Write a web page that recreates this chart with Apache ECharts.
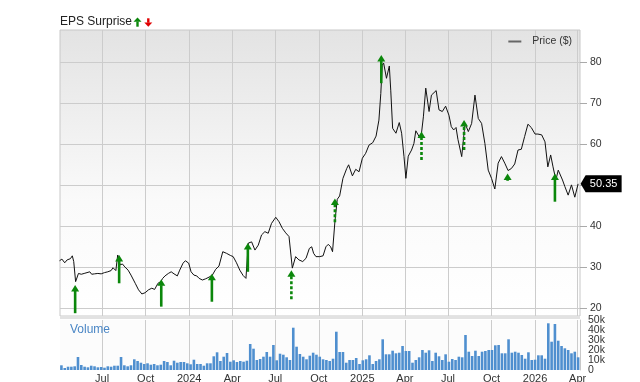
<!DOCTYPE html>
<html><head><meta charset="utf-8">
<script src="https://cdn.jsdelivr.net/npm/echarts@6/dist/echarts.min.js"></script>
<style>html,body{margin:0;padding:0;background:#fff}#c{width:640px;height:382px}</style>
</head><body><div id="c"></div>
<script>
// ---- data (day offsets are relative to 2024-01-01) ----
const baseDate = '2024-01-01';
const priceDays = [-274,-269,-263,-258,-251,-247,-244,-240,-234,-228,-222,-218,-210,-206,-200,-193,-186,-179,-172,-165,-161,-155,-151,-146,-141,-136,-129,-123,-114,-107,-100,-93,-86,-79,-73,-66,-60,-56,-51,-44,-38,-32,-25,-20,-13,-8,-1,4,10,16,21,28,35,42,49,56,63,71,79,87,93,100,107,114,120,125,132,139,146,153,160,167,174,183,190,197,204,211,218,225,232,240,247,254,259,263,268,276,283,289,294,299,303,308,313,318,325,333,337,345,352,359,366,373,380,388,395,401,405,408,411,417,423,426,430,437,444,449,454,458,463,470,475,479,484,488,491,495,500,507,512,522,528,535,542,549,554,559,564,568,576,583,590,597,604,611,618,625,632,639,646,653,660,667,674,681,688,695,702,709,716,723,731,737,745,752,758,764,769,775,780,783,789,794,801,808,815,822];
const priceValues = [31.6,32.0,31.1,31.8,32.1,32.8,31.4,26.5,28.5,28.3,28.5,28.1,28.9,28.3,28.4,28.5,28.4,28.7,28.9,29.2,29.9,29.2,33.0,30.6,30.8,30.1,29.3,28.1,26.1,24.5,23.5,23.8,24.5,24.9,24.6,26.1,26.5,27.3,27.9,28.5,28.9,28.4,27.9,29.3,31.0,31.6,31.0,28.9,28.1,27.9,27.3,26.9,27.2,27.6,28.1,29.5,30.3,33.8,33.4,32.9,32.6,31.1,29.3,28.0,27.3,35.9,36.2,34.2,35.4,37.9,38.7,38.3,40.7,42.2,41.1,39.5,38.4,37.5,29.8,32.6,31.8,31.4,32.2,34.6,35.0,33.4,32.6,32.6,32.8,35.0,35.6,35.0,33.8,41.1,46.6,47.4,51.7,54.1,55.0,52.3,53.9,53.3,56.6,57.8,59.8,60.4,62.0,65.9,72.4,79.3,79.8,76.1,79.1,73.2,63.9,62.7,65.3,62.7,57.0,51.7,57.1,58.6,60.2,63.3,62.3,61.5,62.7,66.7,73.7,68.0,72.0,73.1,68.4,68.0,69.3,67.1,64.3,63.5,64.1,61.2,57.0,65.1,63.1,65.1,72.0,66.3,65.1,60.2,53.7,51.7,49.1,55.4,57.0,55.4,53.6,54.1,55.2,58.6,58.8,61.9,64.9,64.1,62.5,62.5,62.3,60.6,54.5,57.4,54.5,51.3,53.7,53.3,51.3,49.7,47.6,50.1,47.1,50.35];
const lastPrice = 50.35;

// weekly volume, in thousands, first week 2023-04-06
const volumeStart = '2023-04-06';
const volumeK = [4.7,2,3.3,3.3,3.7,13,5,3.3,2.7,4.3,
3.7,2.7,3,2.3,3.7,3.3,4.3,4.3,13,4.7,
3.7,4.7,10.7,9,7.3,6,6.7,5.3,6,4.7,
5.3,9,8,4.7,9.3,7.3,8,8,6.7,5.7,
10.3,6,6,4.3,6.7,6.7,13.7,17.7,9,13.3,
17,8.3,9.7,8,9,8.3,9.3,26,21.3,10,
11,13.3,18,13.3,25,9.7,16.3,15.3,12.7,10,
42.3,23.3,16,13.3,10.7,14.3,17.3,15.3,13.3,10.7,
10,9,11.3,
38.3,18,18,7.3,10,10,12,6,9.7,10.7,
14.7,6,9,10.7,30.7,15.7,15.7,19.3,16.7,17.3,
24,19,19,7.3,10,12.7,20,17.3,19.7,9,
17.3,13.7,10,15.7,8.3,11,10,13.3,12.7,35,
18.3,14,19.3,14,18.3,19,20,20,24.7,25,
16.7,16.7,30.7,17.3,18.3,17.3,15,11.3,17.7,10,
10.3,14.7,14.7,11.3,46.7,28.3,46,29.3,24,21.7,
20,16.7,18.3,12.7];

// EPS surprise arrows (day offsets, arrow bottom, arrow tip, dashed flag)
const epsDays   = [-241,-148,-59,48,124,216,308,406,491,581,673,773];
const epsLow    = [18.8,26.1,20.4,21.6,28.9,22.2,41.0,74.9,56.2,58.6,51.1,46.0];
const epsHigh   = [25.7,33.0,27.1,28.4,35.9,29.3,46.8,81.8,63.1,65.9,52.9,52.9];
const epsDashed = [0,0,0,0,0,1,1,0,1,1,0,0];

const tickDates  = ['2023-07-01','2023-10-01','2024-01-01','2024-04-01','2024-07-01','2024-10-01','2025-01-01','2025-04-01','2025-07-01','2025-10-01','2026-01-01','2026-04-01'];
const tickLabels = ['Jul','Oct','2024','Apr','Jul','Oct','2025','Apr','Jul','Oct','2026','Apr'];
const priceTicks = [20,30,40,50,60,70,80];
const volumeTicksA = [0,20,40];
const volumeTicksB = [10,30,50];

// ---- helpers ----
const DAY = 86400000;
function ts(s){ const p = s.split('-').map(Number); return Date.UTC(p[0], p[1]-1, p[2]); }
const BASE = ts(baseDate);
const tickTs = tickDates.map(ts);
const labelMap = {}; tickTs.forEach((t,i)=>labelMap[t]=tickLabels[i]);
const xMin = BASE - 273*DAY, xMax = BASE + 826*DAY;

const priceData = priceDays.map((d,i)=>[BASE + d*DAY, priceValues[i]]);
const vStart = ts(volumeStart);
const volumeData = volumeK.map((v,i)=>[vStart + i*7*DAY, v]);
const epsData = epsDays.map((d,i)=>[BASE + d*DAY, epsLow[i], epsHigh[i], epsDashed[i]]);
const lastTs = priceData[priceData.length-1][0];

const FONT = 'Liberation Sans, Arial, Helvetica, sans-serif';
const GREEN = '#0b870b';
const volFmt = v => v === 0 ? '0' : v + 'k';

const chart = echarts.init(document.getElementById('c'), null, {renderer:'canvas'});
chart.setOption({
  animation: false,
  backgroundColor: '#fff',
  textStyle: {fontFamily: FONT},
  title: [
    {text: 'EPS Surprise', left: 60, top: 16, padding: 0, textStyle: {fontSize: 12, fontWeight: 'normal', color: '#222', fontFamily: FONT}},
    {text: 'Volume', left: 70, top: 324, padding: 0, textStyle: {fontSize: 12, fontWeight: 'normal', color: '#4a86c5', fontFamily: FONT}}
  ],
  legend: {
    data: [{name: 'Price ($)', itemStyle: {color: '#666'}}],
    right: 68, top: 36, padding: 0,
    icon: 'rect', itemWidth: 13, itemHeight: 2,
    textStyle: {fontSize: 10.5, color: '#333', padding: [0,0,0,6], fontFamily: FONT}
  },
  graphic: [
    {type: 'rect', shape: {x: 60, y: 316, width: 520, height: 3}, style: {fill: '#e2e2e2'}, silent: true},
    {type: 'polygon', shape: {points: [[133.5,21.7],[137.5,17.5],[141.5,21.7]]}, style: {fill: GREEN}},
    {type: 'rect', shape: {x: 136.3, y: 21.5, width: 2.4, height: 5.2}, style: {fill: GREEN}},
    {type: 'rect', shape: {x: 147.1, y: 18.3, width: 2.4, height: 4.4}, style: {fill: '#e00000'}},
    {type: 'polygon', shape: {points: [[144.3,22.5],[148.3,26.7],[152.3,22.5]]}, style: {fill: '#e00000'}}
  ],
  grid: [
    {left: 60, right: 60, top: 30, height: 286, show: true, borderColor: '#c8c8c8', borderWidth: 1,
     backgroundColor: new echarts.graphic.LinearGradient(0,0,0,1,[{offset:0,color:'#e3e3e3'},{offset:0.6,color:'#fafafa'},{offset:1,color:'#ffffff'}]),
     outerBoundsMode: 'none', containLabel: false},
    {left: 60, right: 60, top: 320, height: 50, show: true, borderWidth: 0, backgroundColor: '#fcfcfc',
     outerBoundsMode: 'none', containLabel: false}
  ],
  xAxis: [
    {type: 'value', gridIndex: 0, min: xMin, max: xMax,
     axisLine: {show: false}, axisTick: {show: false, customValues: tickTs},
     axisLabel: {show: false, customValues: tickTs},
     splitLine: {show: true, lineStyle: {color: '#cccccc', width: 1}}},
    {type: 'value', gridIndex: 1, min: xMin, max: xMax,
     axisLine: {show: false}, axisTick: {show: false, customValues: tickTs},
     axisLabel: {show: true, customValues: tickTs, formatter: v => labelMap[v] || '', color: '#333', fontSize: 11, margin: 3, fontFamily: FONT, hideOverlap: false, showMinLabel: true, showMaxLabel: true},
     splitLine: {show: true, lineStyle: {color: '#cccccc', width: 1}}}
  ],
  yAxis: [
    {type: 'value', gridIndex: 0, position: 'right', min: 18.12, max: 87.88,
     axisLine: {show: false},
     axisTick: {show: true, customValues: priceTicks, length: 7, lineStyle: {color: '#aaa'}},
     axisLabel: {show: true, customValues: priceTicks, color: '#333', fontSize: 10.5, margin: 10, fontFamily: FONT, showMinLabel: true, showMaxLabel: true},
     splitLine: {show: true, lineStyle: {color: '#cccccc', width: 1}}},
    {type: 'value', gridIndex: 1, position: 'right', min: 0, max: 50,
     axisLine: {show: true, lineStyle: {color: '#c8c8c8'}},
     axisTick: {show: false, customValues: volumeTicksA},
     axisLabel: {show: true, customValues: volumeTicksA, color: '#333', fontSize: 10.5, margin: 8, fontFamily: FONT, hideOverlap: false, showMinLabel: true, showMaxLabel: true, formatter: volFmt},
     splitLine: {show: false}},
    {type: 'value', gridIndex: 1, position: 'right', offset: 0, min: 0, max: 50,
     axisLine: {show: false},
     axisTick: {show: false, customValues: volumeTicksB},
     axisLabel: {show: true, customValues: volumeTicksB, color: '#333', fontSize: 10.5, margin: 8, fontFamily: FONT, hideOverlap: false, showMinLabel: true, showMaxLabel: true, formatter: volFmt},
     splitLine: {show: false}}
  ],
  series: [
    {name: 'Price ($)', type: 'line', xAxisIndex: 0, yAxisIndex: 0, data: priceData,
     showSymbol: false, symbol: 'none', lineStyle: {color: '#111', width: 1}, itemStyle: {color: '#111'}, z: 3,
     markPoint: {
       symbol: 'path://M0,8 L5,0 L41,0 L41,16 L5,16 Z', symbolSize: [41,17], symbolOffset: [23,0], symbolKeepAspect: false,
       itemStyle: {color: '#000'},
       label: {show: true, position: 'inside', color: '#fff', fontSize: 11, offset: [2.5,0], fontFamily: FONT, formatter: () => lastPrice.toFixed(2)},
       data: [{coord: [lastTs, lastPrice], value: lastPrice}]
     }},
    {name: 'EPS', type: 'custom', xAxisIndex: 0, yAxisIndex: 0, data: epsData, encode: {x: 0, y: [1,2]}, z: 4,
     renderItem: function(params, api){
       const lo = api.coord([api.value(0), api.value(1)]);
       const hi = api.coord([api.value(0), api.value(2)]);
       const dashed = api.value(3) === 1;
       const hw = 4, hh = 6.5;
       return {type: 'group', children: [
         {type: 'line', shape: {x1: lo[0], y1: lo[1], x2: hi[0], y2: hi[1] + hh - 0.5},
          style: {stroke: GREEN, lineWidth: 2.6, lineDash: dashed ? [3,2] : null}},
         {type: 'polygon', shape: {points: [[hi[0]-hw, hi[1]+hh],[hi[0]+hw, hi[1]+hh],[hi[0], hi[1]]]}, style: {fill: GREEN}}
       ]};
     }},
    {name: 'Volume', type: 'bar', xAxisIndex: 1, yAxisIndex: 1, data: volumeData, barWidth: 2.6,
     itemStyle: {color: '#4f8fcf'}}
  ]
});
</script></body></html>
